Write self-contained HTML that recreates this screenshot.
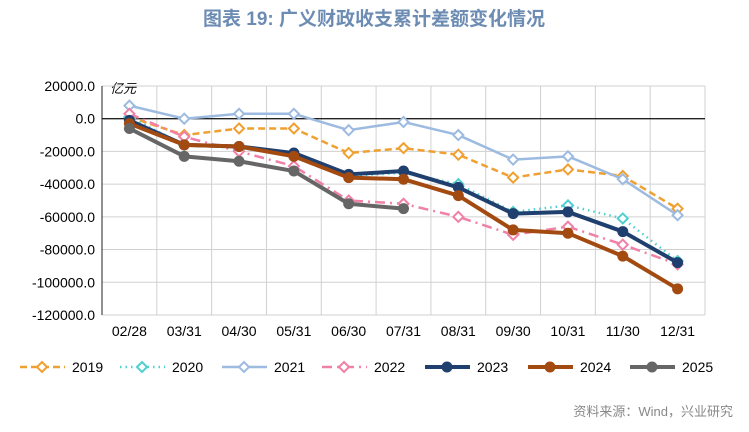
<!DOCTYPE html>
<html><head><meta charset="utf-8"><style>
body{margin:0;background:#fff;width:749px;height:427px;overflow:hidden;font-family:"Liberation Sans","Noto Sans CJK SC",sans-serif}
</style></head><body>
<svg id="s" width="749" height="427" xmlns="http://www.w3.org/2000/svg" font-family="Liberation Sans, Noto Sans CJK SC, sans-serif">
<text x="374" y="25" text-anchor="middle" font-size="19" font-weight="bold" fill="#6d8cb3">图表 19: 广义财政收支累计差额变化情况</text>
<text x="110" y="93" font-size="13" font-style="italic" fill="#000">亿元</text>
<text x="733" y="416" text-anchor="end" font-size="13" fill="#888">资料来源：Wind，兴业研究</text>
<g id="g"></g>
</svg>
<script>
var g=document.getElementById('g'),h='';
var L=102,R=705,T=86,B=315,W=(R-L)/11;
function Y(v){return 118.7-v*229/140;}
function X(i){return L+W*(i+0.5);}
for(var k=0;k<=11;k++){var x=L+W*k;h+='<line x1="'+x+'" y1="'+T+'" x2="'+x+'" y2="'+B+'" stroke="#d0d0d0" stroke-width="1"/>';}
for(var v=20;v>=-120;v-=20){var y=Y(v);h+='<line x1="'+L+'" y1="'+y+'" x2="'+R+'" y2="'+y+'" stroke="'+(v==0?'#222':'#d0d0d0')+'" stroke-width="'+(v==0?1.3:1)+'"/>';
h+='<text x="95" y="'+(y+5)+'" text-anchor="end" font-size="14" fill="#000">'+(v==0?'0.0':(v*1000)+'.0')+'</text>';}
h+='<line x1="'+L+'" y1="'+T+'" x2="'+L+'" y2="'+B+'" stroke="#222"/>';
var labs=['02/28','03/31','04/30','05/31','06/30','07/31','08/31','09/30','10/31','11/30','12/31'];
labs.forEach(function(l,i){h+='<text x="'+X(i)+'" y="336" text-anchor="middle" font-size="14" fill="#000">'+l+'</text>';});
var S=[
{n:'2019',c:'#f0a030',w:2.5,d:'7,4',m:'dia',v:[1,-10,-6,-6,-21,-18,-22,-36,-31,-35,-55]},
{n:'2020',c:'#4fd0d0',w:2.5,d:'1.5,4',m:'dia',v:[1,-16,-18,-22,-35,-33,-40,-57,-53,-61,-87]},
{n:'2021',c:'#9dbbe0',w:2.5,d:'',m:'dia',v:[8,0,3,3,-7,-2,-10,-25,-23,-37,-59]},
{n:'2022',c:'#f080a8',w:2.5,d:'10,5,2,5',m:'dia',v:[3,-11,-20,-29,-50,-52,-60,-71,-66,-77,-89]},
{n:'2023',c:'#1f3f6e',w:4,d:'',m:'dot',v:[-1,-16,-17,-21,-34,-32,-42,-58,-57,-69,-88]},
{n:'2024',c:'#a34a10',w:4,d:'',m:'dot',v:[-3,-16,-17,-23,-36,-37,-47,-68,-70,-84,-104]},
{n:'2025',c:'#666666',w:4,d:'',m:'dot',v:[-6,-23,-26,-32,-52,-55]}];
function mk(s,x,y){if(s.m=='dot')return '<circle cx="'+x+'" cy="'+y+'" r="5.5" fill="'+s.c+'"/>';
return '<path d="M'+x+' '+(y-5)+'L'+(x+5)+' '+y+'L'+x+' '+(y+5)+'L'+(x-5)+' '+y+'Z" fill="#fff" stroke="'+s.c+'" stroke-width="2"/>';}
S.forEach(function(s){var p=s.v.map(function(v,i){return X(i)+','+Y(v);}).join(' ');
h+='<polyline points="'+p+'" fill="none" stroke="'+s.c+'" stroke-width="'+s.w+'" stroke-dasharray="'+s.d+'" stroke-linejoin="round"/>';
s.v.forEach(function(v,i){h+=mk(s,X(i),Y(v));});});
var lx=[20,120,222,322,425,528,630];
S.forEach(function(s,i){var x=lx[i],y=367;h+='<line x1="'+x+'" y1="'+y+'" x2="'+(x+45)+'" y2="'+y+'" stroke="'+s.c+'" stroke-width="'+s.w+'" stroke-dasharray="'+s.d+'"/>'+mk(s,x+22,y)+'<text x="'+(x+52)+'" y="'+(y+5)+'" font-size="14" fill="#000">'+s.n+'</text>';});
g.innerHTML=h;
</script>
</body></html>
